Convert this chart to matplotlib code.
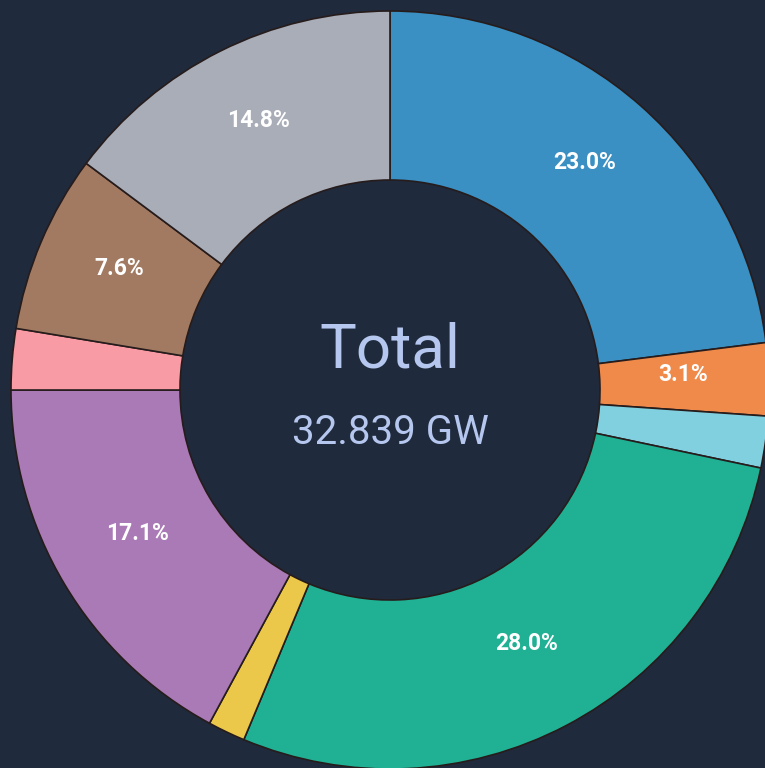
import matplotlib.pyplot as plt

# power mix (GW), clockwise from 12 o'clock
sources = ['blue', 'orange', 'cyan', 'teal', 'yellow', 'purple', 'pink', 'brown', 'gray']
values = [7.553, 1.018, 0.723, 9.195, 0.525, 5.615, 0.854, 2.496, 4.860]
colors = ['#3a8fc3', '#ef8a4b', '#80d0e0', '#20b093', '#ebc84a',
          '#a97ab5', '#f99ba5', '#a27a62', '#a9adb8']
total_label = '32.839 GW'

bg = '#1f2a3c'

fig = plt.figure(figsize=(7.65, 7.68), dpi=100, facecolor=bg)
ax = fig.add_axes([0, 0, 1, 1])
ax.set_facecolor(bg)

R = 379
r_in = 210


def fmt(p):
    return f'{p:.1f}%' if p >= 3 else ''


wedges, texts, autotexts = ax.pie(
    values, colors=colors, startangle=90, counterclock=False,
    radius=R, autopct=fmt, pctdistance=0.775,
    wedgeprops=dict(width=R - r_in, edgecolor='#261c1c', linewidth=1.2),
    textprops=dict(color='white', fontsize=16.5, fontweight='bold', family='Roboto'),
)
# labels sit a little higher than the ring midline in the original
for t in autotexts:
    x, y = t.get_position()
    t.set_position((x, y + 7))

ax.text(0, 39, 'Total', ha='center', va='center', fontsize=44.5,
        color='#b6c7ef', family='Roboto')
ax.text(0, -42, total_label, ha='center', va='center', fontsize=29,
        color='#b6c7ef', family='Roboto')

ax.set_xlim(-390, 375)
ax.set_ylim(-378, 390)
ax.set_aspect('equal')
ax.axis('off')

fig.savefig('out.png', dpi=100, facecolor=bg)
